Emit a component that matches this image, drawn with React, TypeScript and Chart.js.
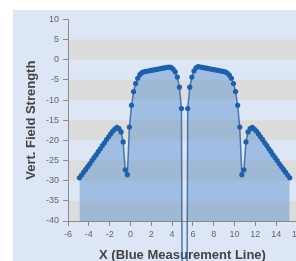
import React, { useEffect, useRef } from "react";
import { Chart, registerables } from "chart.js";

Chart.register(...registerables);

const xValues = [
  -4.9, -4.7, -4.5, -4.3, -4.1, -3.9, -3.7, -3.5, -3.3, -3.1,
  -2.9, -2.7, -2.5, -2.3, -2.1, -1.9, -1.7, -1.5, -1.3, -1.1,
  -0.9, -0.7, -0.5, -0.3, -0.1, 0.1, 0.3, 0.5, 0.7, 0.9,
  1.1, 1.3, 1.5, 1.7, 1.9, 2.1, 2.3, 2.5, 2.7, 2.9,
  3.1, 3.3, 3.5, 3.7, 3.9, 4.1, 4.3, 4.5, 4.7, 4.9,
  5.1, 5.3, 5.5, 5.7, 5.9, 6.1, 6.3, 6.5, 6.7, 6.9,
  7.1, 7.3, 7.5, 7.7, 7.9, 8.1, 8.3, 8.5, 8.7, 8.9,
  9.1, 9.3, 9.5, 9.7, 9.9, 10.1, 10.3, 10.5, 10.7, 10.9,
  11.1, 11.3, 11.5, 11.7, 11.9, 12.1, 12.3, 12.5, 12.7, 12.9,
  13.1, 13.3, 13.5, 13.7, 13.9, 14.1, 14.3, 14.5, 14.7, 14.9,
  15.1, 15.3,
];

const fieldValues = [
  -29.3, -28.6, -27.9, -27.2, -26.5, -25.8, -25.0, -24.3, -23.6, -22.8,
  -22.1, -21.3, -20.6, -19.8, -19.1, -18.4, -17.7, -17.2, -16.8, -17.1,
  -17.9, -20.4, -27.3, -28.5, -16.7, -11.3, -7.9, -5.9, -4.6, -3.7,
  -3.2, -3.0, -2.9, -2.8, -2.7, -2.6, -2.5, -2.4, -2.3, -2.2,
  -2.1, -2.0, -1.9, -1.8, -1.9, -2.3, -3.0, -4.3, -6.8, -12.1,
  -150, -150, -12.1, -6.8, -4.3, -2.8, -2.0, -1.7, -1.8, -1.9,
  -2.0, -2.1, -2.2, -2.3, -2.4, -2.5, -2.6, -2.7, -2.8, -2.9,
  -3.0, -3.3, -3.8, -4.6, -5.9, -7.9, -11.3, -16.7, -28.5, -27.3,
  -20.4, -17.9, -17.1, -16.8, -17.2, -17.7, -18.4, -19.1, -19.8, -20.6,
  -21.3, -22.1, -22.8, -23.6, -24.3, -25.0, -25.8, -26.5, -27.2, -27.9,
  -28.6, -29.3,
];

// grey bands [from, to] on the y axis
const greyBands = [
  [0, 5],
  [-10, -5],
  [-20, -15],
  [-30, -25],
  [-40, -35],
];

const xMin = -6;
const xMax = 16;
const xStep = 2;
const yMin = -40;
const yMax = 10;
const yStep = 5;

const xTitle = "X (Blue Measurement Line)";
const yTitle = "Vert. Field Strength";

const bandPlugin = {
  id: "bands",
  beforeDraw(chart: any) {
    const { ctx, chartArea, scales } = chart;
    const y = scales.y;
    ctx.save();
    ctx.fillStyle = "#dcdcdc";
    for (const [a, b] of greyBands) {
      const top = y.getPixelForValue(b);
      const bottom = y.getPixelForValue(a);
      ctx.fillRect(chartArea.left, top, chart.width - chartArea.left, bottom - top);
    }
    ctx.restore();
  },
};

export default function App() {
  const ref = useRef<HTMLCanvasElement | null>(null);

  useEffect(() => {
    if (!ref.current) return;
    const points = xValues.map((x, i) => ({ x, y: fieldValues[i] }));
    const chart = new Chart(ref.current, {
      type: "line",
      data: {
        datasets: [
          {
            data: points,
            borderColor: "rgba(40,95,165,0.8)",
            borderWidth: 1.5,
            backgroundColor: "rgba(60,125,200,0.38)",
            fill: "start",
            pointRadius: 2.6,
            pointBorderWidth: 0,
            pointBackgroundColor: "#1d60ad",
            pointHoverRadius: 2.6,
            tension: 0,
            clip: false as any,
          },
        ],
      },
      options: {
        animation: false,
        responsive: false,
        devicePixelRatio: 1,
        events: [],
        layout: { padding: { top: 6.5, right: 16, left: 0, bottom: 0 } },
        plugins: {
          legend: { display: false },
          tooltip: { enabled: false },
        },
        scales: {
          x: {
            type: "linear",
            min: xMin,
            max: xMax,
            afterFit: (s: any) => {
              s.height = 45;
            },
            ticks: {
              stepSize: xStep,
              color: "#666",
              font: { family: "Liberation Sans, Arial", size: 9 },
              padding: 3,
              maxRotation: 0,
            },
            grid: {
              drawOnChartArea: false,
              drawTicks: true,
              tickLength: 5,
              color: "#8a8a8a",
            },
            border: { display: true, color: "#8a8a8a" },
            title: {
              display: true,
              text: xTitle,
              color: "#444",
              font: { family: "Liberation Sans, Arial", size: 13, weight: "bold" },
              padding: { top: 4, bottom: 3 },
            },
          },
          y: {
            type: "linear",
            min: yMin,
            max: yMax,
            afterFit: (s: any) => {
              s.width = 55;
            },
            ticks: {
              stepSize: yStep,
              color: "#666",
              font: { family: "Liberation Sans, Arial", size: 9 },
              padding: 4,
            },
            grid: {
              drawOnChartArea: false,
              drawTicks: true,
              tickLength: 5,
              color: "#8a8a8a",
            },
            border: { display: true, color: "#8a8a8a" },
            title: {
              display: true,
              text: yTitle,
              color: "#444",
              font: { family: "Liberation Sans, Arial", size: 13, weight: "bold" },
              padding: { top: 11, bottom: 4 },
            },
          },
        },
      },
      plugins: [bandPlugin],
    });
    return () => chart.destroy();
  }, []);

  return (
    <div
      style={{
        position: "fixed",
        left: 13,
        top: 10,
        right: 0,
        bottom: 0,
        overflow: "hidden",
        background: "#dde6f5",
      }}
    >
      <canvas
        ref={ref}
        width={300}
        height={256}
        style={{ display: "block", width: 300, height: 256 }}
      />
    </div>
  );
}
